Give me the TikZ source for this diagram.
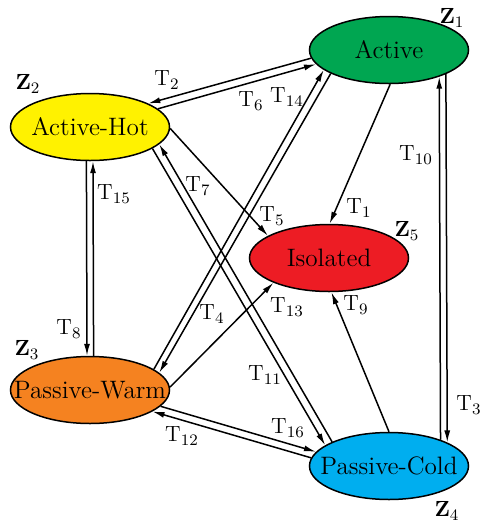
\documentclass[tikz,border=0pt]{standalone}
\usepackage{amsmath,amssymb}
\usepackage{xcolor}
\usepackage{tikz}
\usetikzlibrary{positioning,arrows.meta,shapes.geometric}

\definecolor{actgreen}{HTML}{00A651}
\definecolor{hotyellow}{HTML}{FFF200}
\definecolor{isored}{HTML}{ED1C24}
\definecolor{warmorange}{HTML}{F58220}
\definecolor{coldcyan}{HTML}{00AEEF}

\begin{document}
\begin{tikzpicture}[x=0.5pt, y=-0.5pt,
  every node/.style={align=center},
  state/.style={draw, ellipse, line width=0.75pt, minimum width=79.5pt, minimum height=33.5pt, inner sep=0pt},
  stext/.style={font=\fontsize{12.6}{15}\selectfont},
  zlab/.style={font=\fontsize{11}{13}\selectfont, inner sep=0pt},
  tlab/.style={font=\fontsize{11}{13}\selectfont, inner sep=0pt},
  arr/.style={-{Latex[length=6pt,width=3pt]}, line width=0.75pt}]
\useasboundingbox (0,0) rectangle (484,527);

% ---------------- states ----------------
\node[state, fill=actgreen, label={[stext]center:Active}] (act) at (389,50) {};
\node[state, fill=hotyellow, label={[stext]center:Active-Hot}] (hot) at (90,127) {};
\node[state, fill=isored, label={[stext]center:Isolated}] (iso) at (329,258) {};
\node[state, fill=warmorange, label={[stext]center:Passive-Warm}] (warm) at (90,390) {};
\node[state, fill=coldcyan, label={[stext]center:Passive-Cold}] (cold) at (389,466) {};

\node[zlab] (z1) at (452,18) {$\mathbf{Z}_{1}$};
\node[zlab] (z2) at (28,84) {$\mathbf{Z}_{2}$};
\node[zlab] (z3) at (27,350) {$\mathbf{Z}_{3}$};
\node[zlab] (z4) at (447,511) {$\mathbf{Z}_{4}$};
\node[zlab] (z5) at (407,231) {$\mathbf{Z}_{5}$};

% ---------------- paired transitions ----------------
\draw[arr] (act.186.5) -- (hot.22.3);
\draw[arr] (hot.15.7) -- (act.191.5);
\draw[arr] (warm.18.5) -- (act.197.8);
\draw[arr] (act.202.4) -- (warm.14.1);
\draw[arr] (hot.341.4) -- (cold.162.2);
\draw[arr] (cold.157) -- (hot.346.5);
\draw[arr] (warm.347) -- (cold.169.5);
\draw[arr] (cold.174) -- (warm.341.7);
\draw[arr] (hot.264.9) -- (warm.95.1);
\draw[arr] (warm.84.9) -- (hot.275.1);
\draw[arr] (cold.27.5) -- (act.332.5);
\draw[arr] (act.337.9) -- (cold.22.1);

% ---------------- into isolated ----------------
\draw[arr] (act.272.9) -- (iso.89.5);
\draw[arr] (hot.359.8) -- (iso.160.5);
\draw[arr] (warm.2.3) -- (iso.204.2);
\draw[arr] (cold.90.7) -- (iso.274.1);

% ---------------- labels ----------------
\node[tlab] (t1) at (359,208) {T$_{1}$};
\node[tlab] (t2) at (167,80) {T$_{2}$};
\node[tlab] (t3) at (469,405) {T$_{3}$};
\node[tlab] (t4) at (212,314) {T$_{4}$};
\node[tlab] (t5) at (272,216) {T$_{5}$};
\node[tlab] (t6) at (251,101) {T$_{6}$};
\node[tlab] (t7) at (198,186) {T$_{7}$};
\node[tlab] (t8) at (69,329) {T$_{8}$};
\node[tlab] (t9) at (356,305) {T$_{9}$};
\node[tlab] (t10) at (416,155) {T$_{10}$};
\node[tlab] (t11) at (265,375) {T$_{11}$};
\node[tlab] (t12) at (182,436) {T$_{12}$};
\node[tlab] (t13) at (287,307) {T$_{13}$};
\node[tlab] (t14) at (287,97) {T$_{14}$};
\node[tlab] (t15) at (114,194) {T$_{15}$};
\node[tlab] (t16) at (288,428) {T$_{16}$};
\end{tikzpicture}
\end{document}
